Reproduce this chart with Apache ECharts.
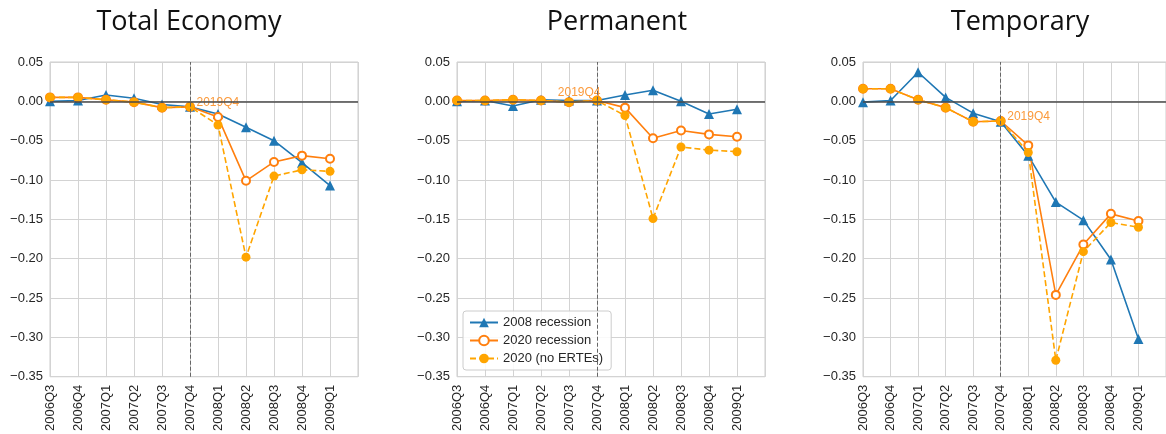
<!DOCTYPE html>
<html>
<head>
<meta charset="utf-8">
<script src="https://cdn.jsdelivr.net/npm/echarts@6/dist/echarts.min.js"></script>
<style>
  html, body { margin: 0; padding: 0; background: #fff; }
  #chart { width: 1166px; height: 434px; }
</style>
</head>
<body>
<div id="chart"></div>
<script>
// quarters on the x axis
var quarters = ['2006Q3', '2006Q4', '2007Q1', '2007Q2', '2007Q3', '2007Q4', '2008Q1', '2008Q2', '2008Q3', '2008Q4', '2009Q1'];
var panelTitles = ['Total Economy', 'Permanent', 'Temporary'];
var seriesNames = ['2008 recession', '2020 recession', '2020 (no ERTEs)'];
var refLabel = '2019Q4';
var refIndex = 5;

// Total Economy
var total2008 = [0.000, 0.001, 0.008, 0.004, -0.004, -0.007, -0.016, -0.033, -0.050, -0.078, -0.107];
var total2020 = [0.005, 0.005, 0.002, -0.001, -0.008, -0.007, -0.020, -0.101, -0.077, -0.069, -0.073];
var total2020NoErte = [0.005, 0.005, 0.002, -0.001, -0.008, -0.007, -0.030, -0.198, -0.095, -0.087, -0.089];

// Permanent
var perm2008 = [0.000, 0.001, -0.006, 0.002, 0.001, 0.001, 0.008, 0.014, 0.000, -0.016, -0.010];
var perm2020 = [0.001, 0.001, 0.002, 0.001, -0.001, 0.001, -0.008, -0.047, -0.037, -0.042, -0.045];
var perm2020NoErte = [0.001, 0.001, 0.002, 0.001, -0.001, 0.001, -0.018, -0.149, -0.058, -0.062, -0.064];

// Temporary
var temp2008 = [-0.001, 0.001, 0.037, 0.005, -0.015, -0.026, -0.069, -0.128, -0.151, -0.201, -0.302];
var temp2020 = [0.016, 0.016, 0.002, -0.008, -0.026, -0.025, -0.056, -0.246, -0.182, -0.143, -0.152];
var temp2020NoErte = [0.016, 0.016, 0.002, -0.008, -0.026, -0.025, -0.065, -0.329, -0.191, -0.154, -0.160];

var panels = [
  [total2008, total2020, total2020NoErte],
  [perm2008, perm2020, perm2020NoErte],
  [temp2008, temp2020, temp2020NoErte]
];

var gridLeft = [50, 457, 863];
var titleCenter = [184, 612, 1015];
var labelPos = ['right', 'left', 'right'];
var labelOffset = [[0, -4], [10, -8], [0, -4]];

var blue = '#1f77b4', orange = '#ff7f0e', gold = '#ffa500';

function toPairs(arr) {
  return arr.map(function (v, i) { return [i, v]; });
}

var chart = echarts.init(document.getElementById('chart'));

var grids = [], xAxes = [], yAxes = [], series = [], titles = [];

panels.forEach(function (p, k) {
  grids.push({
    left: gridLeft[k], top: 62, width: 308, height: 317,
    show: true, borderColor: '#cccccc', borderWidth: 1, backgroundColor: '#fff'
  });
  titles.push({
    text: panelTitles[k], left: titleCenter[k], top: 4, textAlign: 'center',
    textStyle: { fontFamily: 'Open Sans', fontWeight: 'normal', fontSize: 27, color: '#111' }
  });
  xAxes.push({
    type: 'value', gridIndex: k, min: 0, max: quarters.length, interval: 1,
    axisLine: { show: false }, axisTick: { show: false },
    splitLine: { show: true, lineStyle: { color: '#d3d3d3', width: 1 } },
    axisLabel: {
      rotate: 90, margin: 8, fontSize: 13, color: '#262626', fontFamily: 'Liberation Sans',
      showMaxLabel: true,
      formatter: function (v) { return quarters[v] || ''; }
    }
  });
  yAxes.push({
    type: 'value', gridIndex: k, min: -0.35, max: 0.05, interval: 0.05,
    axisLine: { show: false }, axisTick: { show: false },
    splitLine: { show: true, lineStyle: { color: '#d3d3d3', width: 1 } },
    axisLabel: {
      margin: 7, fontSize: 13, color: '#262626', fontFamily: 'Liberation Sans',
      formatter: function (v) {
        var s = Math.abs(v).toFixed(2);
        return (v < -1e-9 ? '\u2212' : '') + s;
      }
    }
  });

  series.push({
    name: seriesNames[0], type: 'line', xAxisIndex: k, yAxisIndex: k,
    data: toPairs(p[0]),
    symbol: 'triangle', symbolSize: 10,
    lineStyle: { color: blue, width: 1.6 }, itemStyle: { color: blue },
    markLine: {
      silent: true, symbol: 'none', label: { show: false },
      data: [
        { yAxis: 0, lineStyle: { color: '#4a4a4a', width: 1.6, type: 'solid' } },
        { xAxis: refIndex, lineStyle: { color: '#666', width: 1, type: [4, 2] } }
      ]
    }
  });
  series.push({
    name: seriesNames[1], type: 'line', xAxisIndex: k, yAxisIndex: k,
    data: toPairs(p[1]),
    symbol: 'emptyCircle', symbolSize: 8,
    lineStyle: { color: orange, width: 1.6 },
    itemStyle: { color: orange, borderWidth: 1.2 }
  });
  var d = toPairs(p[2]).map(function (pt, i) {
    if (i !== refIndex) return pt;
    return {
      value: pt,
      label: {
        show: true, formatter: refLabel, position: labelPos[k], distance: 2,
        offset: labelOffset[k], color: '#fb9a3c', fontSize: 12, fontFamily: 'Liberation Sans'
      }
    };
  });
  series.push({
    name: seriesNames[2], type: 'line', xAxisIndex: k, yAxisIndex: k,
    data: d,
    symbol: 'circle', symbolSize: 9,
    lineStyle: { color: gold, width: 1.6, type: [6, 3] },
    itemStyle: { color: gold }
  });
});

var option = {
  animation: false,
  backgroundColor: '#fff',
  title: titles,
  grid: grids,
  xAxis: xAxes,
  yAxis: yAxes,
  legend: {
    data: seriesNames,
    orient: 'vertical',
    left: 463, top: 311,
    padding: [5, 8, 5, 6],
    itemGap: 5, itemWidth: 28, itemHeight: 12,
    backgroundColor: 'rgba(255,255,255,0.85)',
    borderColor: '#cccccc', borderWidth: 1, borderRadius: 3,
    textStyle: { fontSize: 13, color: '#262626', fontFamily: 'Liberation Sans' }
  },
  series: series
};

chart.setOption(option);
</script>
</body>
</html>
